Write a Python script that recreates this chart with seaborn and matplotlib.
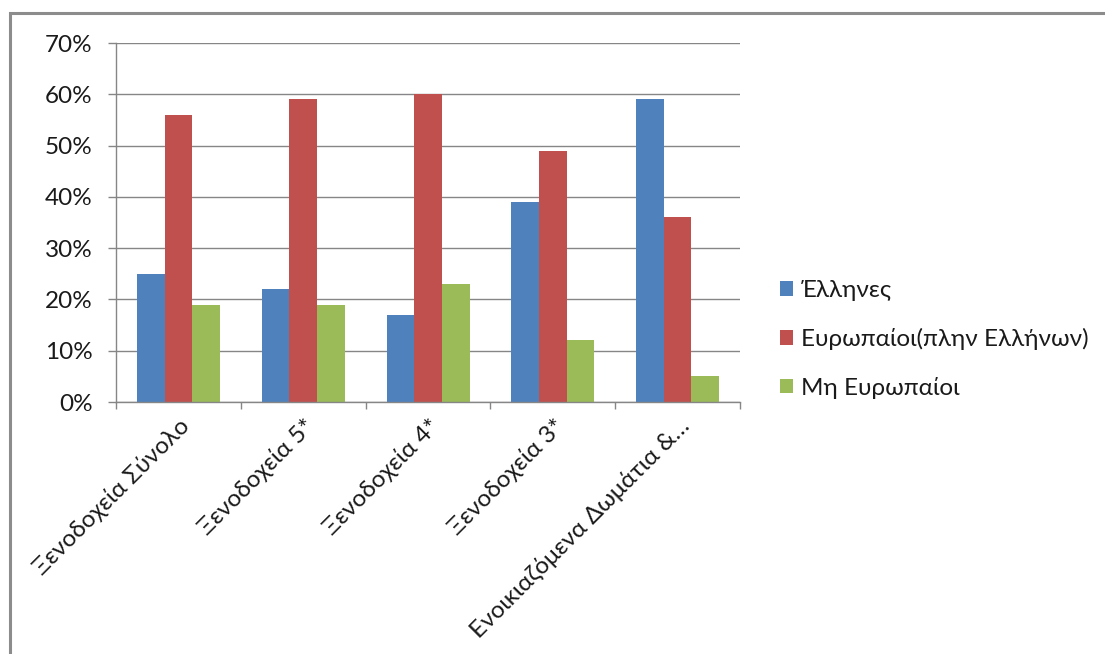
import numpy as np
import pandas as pd
import seaborn as sns
import matplotlib.pyplot as plt
from matplotlib.patches import Rectangle
from matplotlib.ticker import FixedLocator, FuncFormatter
from matplotlib.transforms import ScaledTranslation

# Share of guests by origin per accommodation type (%)
categories = ['Ξενοδοχεία Σύνολο', 'Ξενοδοχεία 5*', 'Ξενοδοχεία 4*',
              'Ξενοδοχεία 3*', 'Ενοικιαζόμενα Δωμάτια &…']
series_names = ['Έλληνες', 'Ευρωπαίοι(πλην Ελλήνων)', 'Μη Ευρωπαίοι']
greeks = [25, 22, 17, 39, 59]
europeans = [56, 59, 60, 49, 36]
non_europeans = [19, 19, 23, 12, 5]
y_ticks = [0, 10, 20, 30, 40, 50, 60, 70]

colors = ['#4F81BD', '#C0504D', '#9BBB59']
grid_grey = '#868686'
text_color = '#1a1a1a'
font_size = 17.5

df = pd.DataFrame({
    'category': categories * 3,
    'series': np.repeat(series_names, len(categories)),
    'value': greeks + europeans + non_europeans,
})

sns.set_theme(style='white')
plt.rcParams['font.family'] = ['Lato', 'Open Sans', 'DejaVu Sans']

fig = plt.figure(figsize=(11.05, 6.54), dpi=100)
ax = fig.add_axes([0.105, 0.3853, 0.5647, 0.5489])

sns.barplot(data=df, x='category', y='value', hue='series',
            hue_order=series_names, order=categories, palette=colors,
            saturation=1, width=0.665, errorbar=None, ax=ax,
            linewidth=0)

ax.set_ylim(0, 70)
ax.set_xlim(-0.5, len(categories) - 0.5)
ax.yaxis.set_major_locator(FixedLocator(y_ticks))
ax.yaxis.set_major_formatter(FuncFormatter(lambda v, p: f'{v:.0f}%'))
ax.yaxis.grid(True, color=grid_grey, linewidth=1)
ax.xaxis.grid(False)
ax.set_axisbelow(True)
ax.set_xlabel('')
ax.set_ylabel('')

for side in ('top', 'right'):
    ax.spines[side].set_visible(False)
for side in ('left', 'bottom'):
    ax.spines[side].set_color(grid_grey)
    ax.spines[side].set_linewidth(1)

ax.tick_params(axis='y', which='major', length=6, width=1, color=grid_grey,
               direction='out', labelsize=font_size, pad=11,
               labelcolor=text_color, left=True)
ax.tick_params(axis='x', which='major', length=0, labelsize=font_size, pad=15,
               labelcolor=text_color)
ax.xaxis.set_minor_locator(FixedLocator(np.arange(-0.5, len(categories), 1.0)))
ax.tick_params(axis='x', which='minor', length=5, width=1, color=grid_grey,
               direction='out', bottom=True)

# Rotated category labels, nudged slightly to the right of each group centre
nudge = ScaledTranslation(8 / 100, 0, fig.dpi_scale_trans)
for lbl in ax.get_xticklabels():
    lbl.set_rotation(45)
    lbl.set_ha('right')
    lbl.set_va('center')
    lbl.set_rotation_mode('anchor')
    lbl.set_transform(lbl.get_transform() + nudge)

handles, labels = ax.get_legend_handles_labels()
ax.legend(handles, labels, loc='center left',
          bbox_to_anchor=(0.686, 0.481), bbox_transform=fig.transFigure,
          frameon=False, fontsize=font_size, handlelength=0.55,
          handleheight=0.55, handletextpad=0.3, labelspacing=1.1,
          labelcolor=text_color)

# Outer chart frame
fig.add_artist(Rectangle((10 / 1105, -0.5), 2, 1 - 13 / 654 + 0.5,
                         transform=fig.transFigure, fill=False,
                         edgecolor='#8c8c8c', linewidth=2.2))

fig.savefig('out.png', dpi=100)
